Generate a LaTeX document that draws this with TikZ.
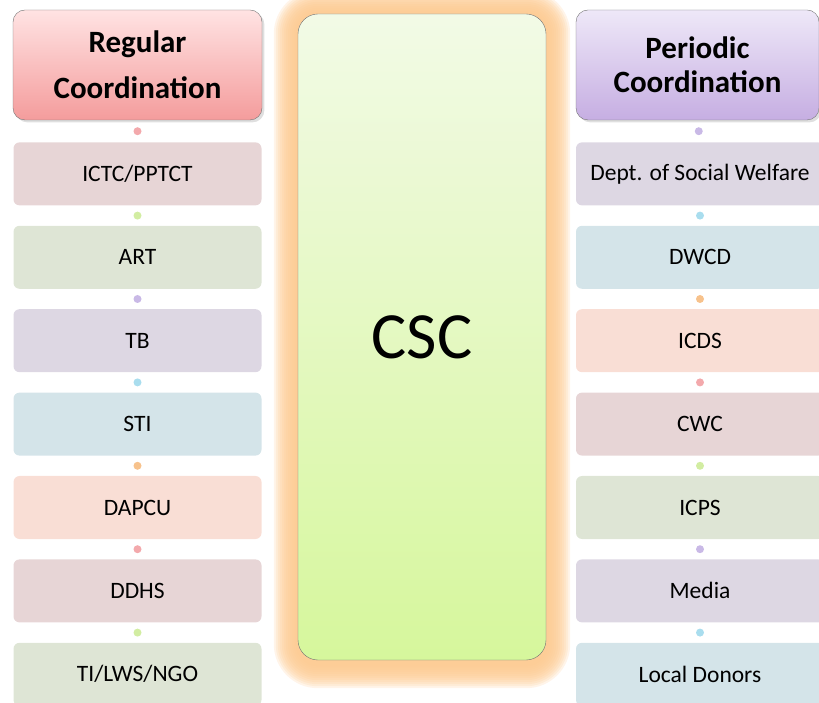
\documentclass[tikz,border=0pt]{standalone}
\usepackage{fontspec}
\setmainfont{Carlito}
\usetikzlibrary{positioning,calc,shadows,backgrounds}
\definecolor{pinktop}{HTML}{FFE3E3}
\definecolor{pinkbot}{HTML}{F49C9C}
\definecolor{lilactop}{HTML}{EEE8F8}
\definecolor{lilacbot}{HTML}{C6AEE2}
\definecolor{csctop}{HTML}{F2FAE6}
\definecolor{cscbot}{HTML}{D6F79C}
\definecolor{glow}{HTML}{FDC98F}
\definecolor{rose}{HTML}{E7D5D6}
\definecolor{sage}{HTML}{DEE5D5}
\definecolor{lilac}{HTML}{DDD7E3}
\definecolor{aqua}{HTML}{D4E4E9}
\definecolor{peach}{HTML}{F9DED5}
\definecolor{dotpink}{HTML}{F3A9AC}
\definecolor{dotgreen}{HTML}{D2EDA2}
\definecolor{dotlilac}{HTML}{C9B9E6}
\definecolor{dotblue}{HTML}{A9DDEE}
\definecolor{dotorange}{HTML}{F7C28C}
\begin{document}
\begin{tikzpicture}[x=1pt,y=1pt,
  head/.style={draw=black!55, rounded corners=12pt, minimum height=110pt, align=center,
    font=\bfseries\fontsize{31}{46}\selectfont, drop shadow={opacity=0.25}},
  item/.style={rounded corners=6pt, minimum width=248pt, minimum height=63pt,
    font=\fontsize{23.5}{26}\selectfont},
  dot/.style={circle, inner sep=0pt, minimum size=8pt}]
\useasboundingbox (0,0) rectangle (819,702);
% middle box
\node (csc) [draw=black!55, rounded corners=20pt, minimum width=248pt, minimum height=646pt,
  top color=csctop, bottom color=cscbot, font=\fontsize{66}{70}\selectfont] at (422,365) {CSC};
\begin{scope}[on background layer]
\foreach \r in {24,22,...,2}
  \fill[glow, opacity=0.2, rounded corners=20pt+\r]
    ($(csc.south west)+(-\r,-\r-4)$) rectangle ($(csc.north east)+(\r,\r)$);
\end{scope}
% left column
\node (lh) [head, minimum width=249pt, top color=pinktop, bottom color=pinkbot] at (137.5,637) {Regular\\Coordination};
\node (l1) [item, fill=rose, below=22pt of lh] {ICTC/PPTCT};
\node (l2) [item, fill=sage, below=20pt of l1] {ART};
\node (l3) [item, fill=lilac, below=20pt of l2] {TB};
\node (l4) [item, fill=aqua, below=20pt of l3] {STI};
\node (l5) [item, fill=peach, below=20pt of l4] {DAPCU};
\node (l6) [item, fill=rose, below=20pt of l5] {DDHS};
\node (l7) [item, fill=sage, below=20pt of l6] {TI/LWS/NGO};
\node[dot, fill=dotpink] at ($(lh.south)!0.5!(l1.north)$) {};
\node[dot, fill=dotgreen] at ($(l1.south)!0.5!(l2.north)$) {};
\node[dot, fill=dotlilac] at ($(l2.south)!0.5!(l3.north)$) {};
\node[dot, fill=dotblue] at ($(l3.south)!0.5!(l4.north)$) {};
\node[dot, fill=dotorange] at ($(l4.south)!0.5!(l5.north)$) {};
\node[dot, fill=dotpink] at ($(l5.south)!0.5!(l6.north)$) {};
\node[dot, fill=dotgreen] at ($(l6.south)!0.5!(l7.north)$) {};
% right column
\node (rh) [head, minimum width=243pt, top color=lilactop, bottom color=lilacbot,
  font=\bfseries\fontsize{31}{34}\selectfont] at (697.5,637) {Periodic\\Coordination};
\node (r1) [item, fill=lilac, below=22pt of rh, xshift=2.5pt] {Dept. of Social Welfare};
\node (r2) [item, fill=aqua, below=20pt of r1] {DWCD};
\node (r3) [item, fill=peach, below=20pt of r2] {ICDS};
\node (r4) [item, fill=rose, below=20pt of r3] {CWC};
\node (r5) [item, fill=sage, below=20pt of r4] {ICPS};
\node (r6) [item, fill=lilac, below=20pt of r5] {Media};
\node (r7) [item, fill=aqua, below=20pt of r6] {Local Donors};
\node[dot, fill=dotlilac] at ($(rh.south)!0.5!(r1.north)$) {};
\node[dot, fill=dotblue] at ($(r1.south)!0.5!(r2.north)$) {};
\node[dot, fill=dotorange] at ($(r2.south)!0.5!(r3.north)$) {};
\node[dot, fill=dotpink] at ($(r3.south)!0.5!(r4.north)$) {};
\node[dot, fill=dotgreen] at ($(r4.south)!0.5!(r5.north)$) {};
\node[dot, fill=dotlilac] at ($(r5.south)!0.5!(r6.north)$) {};
\node[dot, fill=dotblue] at ($(r6.south)!0.5!(r7.north)$) {};
\end{tikzpicture}
\end{document}
